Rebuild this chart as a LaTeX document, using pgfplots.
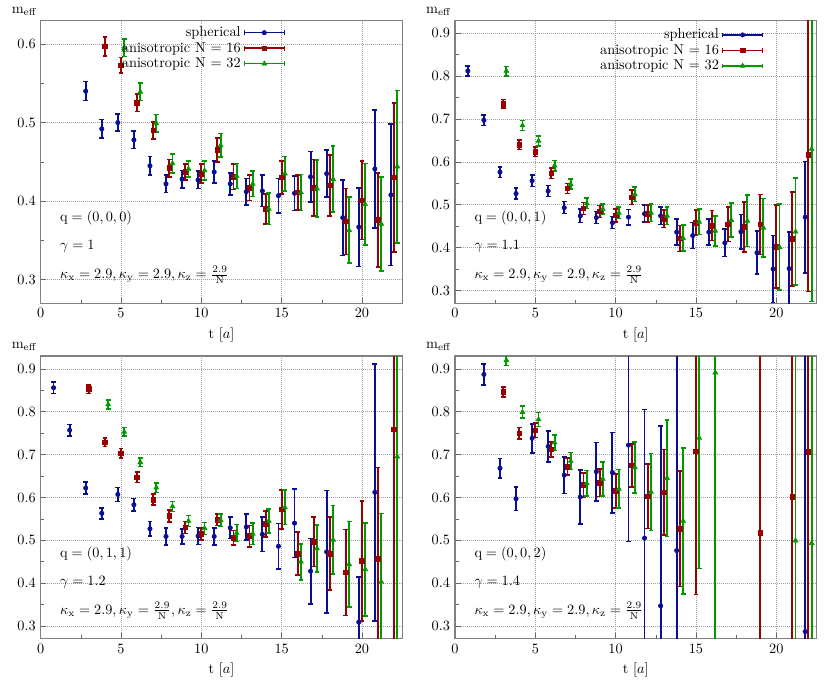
\documentclass[border=0pt]{standalone}
\usepackage{pgfplots}
\pgfplotsset{compat=1.18}

\definecolor{cblue}{rgb}{0.03,0.06,0.58}
\definecolor{cred}{rgb}{0.6,0.0,0.0}
\definecolor{cgreen}{rgb}{0.0,0.6,0.0}

\pgfplotsset{
  errs/.style={only marks, line width=1.1pt, error bars/.cd, y dir=both, y explicit,
    error bar style={line width=1.3pt},
    error mark options={rotate=90, mark size=1.7pt, line width=1.1pt}},
  sph/.style={color=cblue, mark=*, mark size=1.5pt, mark options={line width=0.5pt}, errs},
  ani16/.style={color=cred, mark=square*, mark size=1.6pt, mark options={line width=0.5pt}, errs},
  ani32/.style={color=cgreen, mark=triangle*, mark size=1.9pt, mark options={line width=0.5pt}, errs},
  panel/.style={
    scale only axis, width=253pt, height=198pt,
    xmin=0, xmax=22.5, ymin=0.27,
    xtick={0,5,...,20}, minor x tick num=1, minor y tick num=1,
    grid=major, grid style={densely dotted, gray!75},
    tick align=inside, tick pos=left,
    major tick length=4pt, minor tick length=2.5pt,
    every tick/.style={gray!80!black},
    axis line style={gray, line width=0.8pt},
    yticklabel style={/pgf/number format/.cd, fixed, fixed zerofill, precision=1},
    xlabel={$\mathrm{t}\ [a]$},
    ylabel={$\mathrm{m}_{\mathrm{eff}}$},
    every axis y label/.style={at={(rel axis cs:-0.045,1)}, anchor=south},
    legend plot pos=right, legend cell align=right,
    legend image code/.code={
      \draw[##1,sharp plot,mark repeat=2,mark phase=2,line width=1.1pt]
        plot coordinates {(0pt,0pt) (14pt,0pt) (28pt,0pt)};
      \draw[##1,mark=none,line width=1.1pt] (0pt,-1.7pt) -- (0pt,1.7pt)
        (28pt,-1.7pt) -- (28pt,1.7pt);
    },
  },
}

\begin{document}
\begin{tikzpicture}
\path (0,0) rectangle (581pt,482pt);

% q = (0,0,0)
\begin{axis}[panel, at={(28.5pt,269.7pt)}, anchor=south west,
  ymax=0.63, ytick={0.3,0.4,0.5,0.6},
  legend style={at={(0.677,0.902)}, anchor=east, draw=none, fill=none, inner sep=0pt, row sep=-1.5pt}]
\addplot+[sph] coordinates {
 (2.8,0.540) +- (0,0.012) (3.8,0.492) +- (0,0.012) (4.8,0.500) +- (0,0.011)
 (5.8,0.478) +- (0,0.011) (6.8,0.445) +- (0,0.012) (7.8,0.422) +- (0,0.011)
 (8.8,0.428) +- (0,0.011) (9.8,0.427) +- (0,0.011) (10.8,0.437) +- (0,0.014)
 (11.8,0.422) +- (0,0.014) (12.8,0.412) +- (0,0.017) (13.8,0.413) +- (0,0.020)
 (14.8,0.407) +- (0,0.022) (15.8,0.410) +- (0,0.022) (16.8,0.431) +- (0,0.032)
 (17.8,0.435) +- (0,0.030) (18.8,0.379) +- (0,0.048) (19.8,0.367) +- (0,0.050)
 (20.8,0.441) +- (0,0.075) (21.8,0.408) +- (0,0.090)};
\addplot+[ani16] coordinates {
 (4,0.597) +- (0,0.012) (5,0.573) +- (0,0.010) (6,0.525) +- (0,0.011)
 (7,0.490) +- (0,0.011) (8,0.442) +- (0,0.011) (9,0.437) +- (0,0.010)
 (10,0.435) +- (0,0.012) (11,0.465) +- (0,0.015) (12,0.431) +- (0,0.016)
 (13,0.417) +- (0,0.016) (14,0.390) +- (0,0.019) (15,0.430) +- (0,0.021)
 (16,0.411) +- (0,0.022) (17,0.417) +- (0,0.036) (18,0.420) +- (0,0.039)
 (19,0.374) +- (0,0.042) (20,0.401) +- (0,0.050) (21,0.376) +- (0,0.060)
 (22,0.430) +- (0,0.095)};
\addplot+[ani32] coordinates {
 (5.2,0.595) +- (0,0.011) (6.2,0.539) +- (0,0.011) (7.2,0.499) +- (0,0.011)
 (8.2,0.448) +- (0,0.012) (9.2,0.441) +- (0,0.010) (10.2,0.439) +- (0,0.012)
 (11.2,0.471) +- (0,0.015) (12.2,0.432) +- (0,0.016) (13.2,0.422) +- (0,0.016)
 (14.2,0.390) +- (0,0.020) (15.2,0.435) +- (0,0.022) (16.2,0.411) +- (0,0.023)
 (17.2,0.416) +- (0,0.036) (18.2,0.428) +- (0,0.042) (19.2,0.363) +- (0,0.042)
 (20.2,0.396) +- (0,0.052) (21.2,0.371) +- (0,0.060) (22.2,0.444) +- (0,0.097)};
\legend{spherical, anisotropic N $=$ 16, anisotropic N $=$ 32}
\node[anchor=west] at (rel axis cs:0.04,0.30) {$\mathrm{q} = (0, 0, 0)$};
\node[anchor=west] at (rel axis cs:0.04,0.20) {$\gamma = 1$};
\node[anchor=west] at (rel axis cs:0.04,0.10) {$\kappa_{\mathrm{x}} = 2.9, \kappa_{\mathrm{y}} = 2.9, \kappa_{\mathrm{z}} = \frac{2.9}{\mathrm{N}}$};
\end{axis}

% q = (0,0,1)
\begin{axis}[panel, at={(318.5pt,269.7pt)}, anchor=south west,
  ymax=0.93, ytick={0.3,0.4,...,0.9},
  legend style={at={(0.854,0.894)}, anchor=east, draw=none, fill=none, inner sep=0pt, row sep=-1.5pt}]
\addplot+[sph] coordinates {
 (0.8,0.812) +- (0,0.012) (1.8,0.697) +- (0,0.012) (2.8,0.576) +- (0,0.012)
 (3.8,0.526) +- (0,0.013) (4.8,0.556) +- (0,0.013) (5.8,0.532) +- (0,0.013)
 (6.8,0.493) +- (0,0.014) (7.8,0.474) +- (0,0.016) (8.8,0.470) +- (0,0.014)
 (9.8,0.458) +- (0,0.014) (10.8,0.471) +- (0,0.018) (11.8,0.479) +- (0,0.020)
 (12.8,0.474) +- (0,0.020) (13.8,0.436) +- (0,0.030) (14.8,0.428) +- (0,0.030)
 (15.8,0.436) +- (0,0.030) (16.8,0.411) +- (0,0.032) (17.8,0.437) +- (0,0.040)
 (18.8,0.388) +- (0,0.050) (19.8,0.350) +- (0,0.078) (20.8,0.351) +- (0,0.085)
 (21.8,0.471) +- (0,0.130)};
\addplot+[ani16] coordinates {
 (3,0.736) +- (0,0.010) (4,0.640) +- (0,0.011) (5,0.624) +- (0,0.011)
 (6,0.573) +- (0,0.012) (7,0.538) +- (0,0.012) (8,0.491) +- (0,0.014)
 (9,0.484) +- (0,0.014) (10,0.475) +- (0,0.015) (11,0.517) +- (0,0.017)
 (12,0.479) +- (0,0.020) (13,0.467) +- (0,0.020) (14,0.421) +- (0,0.030)
 (15,0.458) +- (0,0.030) (16,0.451) +- (0,0.035) (17,0.454) +- (0,0.040)
 (18,0.448) +- (0,0.058) (19,0.454) +- (0,0.070) (20,0.402) +- (0,0.097)
 (21,0.420) +- (0,0.110) (22,0.617) +- (0,0.320)};
\addplot+[ani32] coordinates {
 (3.2,0.812) +- (0,0.011) (4.2,0.685) +- (0,0.012) (5.2,0.649) +- (0,0.012)
 (6.2,0.591) +- (0,0.012) (7.2,0.548) +- (0,0.012) (8.2,0.503) +- (0,0.012)
 (9.2,0.490) +- (0,0.012) (10.2,0.481) +- (0,0.013) (11.2,0.524) +- (0,0.017)
 (12.2,0.481) +- (0,0.020) (13.2,0.474) +- (0,0.020) (14.2,0.422) +- (0,0.030)
 (15.2,0.460) +- (0,0.030) (16.2,0.439) +- (0,0.035) (17.2,0.464) +- (0,0.040)
 (18.2,0.462) +- (0,0.060) (19.2,0.446) +- (0,0.068) (20.2,0.401) +- (0,0.100)
 (21.2,0.437) +- (0,0.125) (22.2,0.630) +- (0,0.356)};
\legend{spherical, anisotropic N $=$ 16, anisotropic N $=$ 32}
\node[anchor=west] at (rel axis cs:0.04,0.30) {$\mathrm{q} = (0, 0, 1)$};
\node[anchor=west] at (rel axis cs:0.04,0.20) {$\gamma = 1.1$};
\node[anchor=west] at (rel axis cs:0.04,0.10) {$\kappa_{\mathrm{x}} = 2.9, \kappa_{\mathrm{y}} = 2.9, \kappa_{\mathrm{z}} = \frac{2.9}{\mathrm{N}}$};
\end{axis}

% q = (0,1,1)
\begin{axis}[panel, at={(28.5pt,34.8pt)}, anchor=south west,
  ymax=0.93, ytick={0.3,0.4,...,0.9}]
\addplot+[sph] coordinates {
 (0.8,0.856) +- (0,0.013) (1.8,0.757) +- (0,0.013) (2.8,0.622) +- (0,0.014)
 (3.8,0.563) +- (0,0.013) (4.8,0.607) +- (0,0.016) (5.8,0.583) +- (0,0.015)
 (6.8,0.527) +- (0,0.017) (7.8,0.509) +- (0,0.020) (8.8,0.509) +- (0,0.018)
 (9.8,0.510) +- (0,0.020) (10.8,0.509) +- (0,0.020) (11.8,0.529) +- (0,0.025)
 (12.8,0.531) +- (0,0.030) (13.8,0.514) +- (0,0.040) (14.8,0.486) +- (0,0.053)
 (15.8,0.540) +- (0,0.080) (16.8,0.428) +- (0,0.076) (17.8,0.473) +- (0,0.143)
 (19.8,0.309) +- (0,0.106) (20.8,0.612) +- (0,0.300)};
\addplot+[ani16] coordinates {
 (3,0.853) +- (0,0.010) (4,0.729) +- (0,0.010) (5,0.703) +- (0,0.011)
 (6,0.647) +- (0,0.012) (7,0.595) +- (0,0.013) (8,0.557) +- (0,0.014)
 (9,0.530) +- (0,0.014) (10,0.515) +- (0,0.014) (11,0.548) +- (0,0.013)
 (12,0.506) +- (0,0.017) (13,0.510) +- (0,0.025) (14,0.538) +- (0,0.030)
 (15,0.572) +- (0,0.045) (16,0.469) +- (0,0.050) (17,0.497) +- (0,0.058)
 (18,0.469) +- (0,0.085) (19,0.425) +- (0,0.100) (20,0.452) +- (0,0.140)
 (21,0.457) +- (0,0.213) (22,0.759) +- (0,0.600)};
\addplot+[ani32] coordinates {
 (4.2,0.817) +- (0,0.010) (5.2,0.753) +- (0,0.010) (6.2,0.682) +- (0,0.010)
 (7.2,0.623) +- (0,0.011) (8.2,0.579) +- (0,0.012) (9.2,0.545) +- (0,0.013)
 (10.2,0.528) +- (0,0.014) (11.2,0.547) +- (0,0.015) (12.2,0.517) +- (0,0.020)
 (13.2,0.515) +- (0,0.025) (14.2,0.545) +- (0,0.028) (15.2,0.577) +- (0,0.040)
 (16.2,0.450) +- (0,0.042) (17.2,0.481) +- (0,0.055) (18.2,0.501) +- (0,0.080)
 (19.2,0.444) +- (0,0.100) (20.2,0.432) +- (0,0.108) (21.2,0.403) +- (0,0.160)
 (22.2,0.695) +- (0,0.600)};
\node[anchor=west] at (rel axis cs:0.04,0.30) {$\mathrm{q} = (0, 1, 1)$};
\node[anchor=west] at (rel axis cs:0.04,0.20) {$\gamma = 1.2$};
\node[anchor=west] at (rel axis cs:0.04,0.10) {$\kappa_{\mathrm{x}} = 2.9, \kappa_{\mathrm{y}} = \frac{2.9}{\mathrm{N}}, \kappa_{\mathrm{z}} = \frac{2.9}{\mathrm{N}}$};
\end{axis}

% q = (0,0,2)
\begin{axis}[panel, at={(318.5pt,34.8pt)}, anchor=south west,
  ymax=0.93, ytick={0.3,0.4,...,0.9}]
\addplot+[sph] coordinates {
 (1.8,0.887) +- (0,0.025) (2.8,0.668) +- (0,0.023) (3.8,0.597) +- (0,0.027)
 (4.8,0.738) +- (0,0.034) (5.8,0.719) +- (0,0.036) (6.8,0.652) +- (0,0.043)
 (7.8,0.601) +- (0,0.063) (8.8,0.660) +- (0,0.068) (9.8,0.658) +- (0,0.094)
 (10.8,0.722) +- (0,0.225) (11.8,0.505) +- (0,0.300) (12.8,0.347) +- (0,0.420)
 (13.8,0.476) +- (0,0.500) (21.8,0.287) +- (0,0.700)};
\addplot+[ani16] coordinates {
 (3,0.846) +- (0,0.012) (4,0.750) +- (0,0.013) (5,0.757) +- (0,0.017)
 (6,0.712) +- (0,0.017) (7,0.672) +- (0,0.020) (8,0.629) +- (0,0.028)
 (9,0.634) +- (0,0.032) (10,0.615) +- (0,0.040) (11,0.675) +- (0,0.050)
 (12,0.603) +- (0,0.075) (13,0.612) +- (0,0.100) (14,0.527) +- (0,0.135)
 (15,0.708) +- (0,0.335) (19,0.517) +- (0,0.500) (21,0.602) +- (0,0.500)
 (22,0.707) +- (0,0.600)};
\addplot+[ani32] coordinates {
 (3.2,0.920) +- (0,0.012) (4.2,0.799) +- (0,0.014) (5.2,0.782) +- (0,0.016)
 (6.2,0.728) +- (0,0.018) (7.2,0.685) +- (0,0.020) (8.2,0.633) +- (0,0.030)
 (9.2,0.643) +- (0,0.040) (10.2,0.620) +- (0,0.045) (11.2,0.670) +- (0,0.060)
 (12.2,0.613) +- (0,0.090) (13.2,0.645) +- (0,0.136) (14.2,0.545) +- (0,0.170)
 (15.2,0.739) +- (0,0.305) (16.2,0.891) +- (0,0.700) (21.2,0.499) +- (0,0.600)
 (22.2,0.493) +- (0,0.600)};
\node[anchor=west] at (rel axis cs:0.04,0.30) {$\mathrm{q} = (0, 0, 2)$};
\node[anchor=west] at (rel axis cs:0.04,0.20) {$\gamma = 1.4$};
\node[anchor=west] at (rel axis cs:0.04,0.10) {$\kappa_{\mathrm{x}} = 2.9, \kappa_{\mathrm{y}} = 2.9, \kappa_{\mathrm{z}} = \frac{2.9}{\mathrm{N}}$};
\end{axis}
\end{tikzpicture}
\end{document}
